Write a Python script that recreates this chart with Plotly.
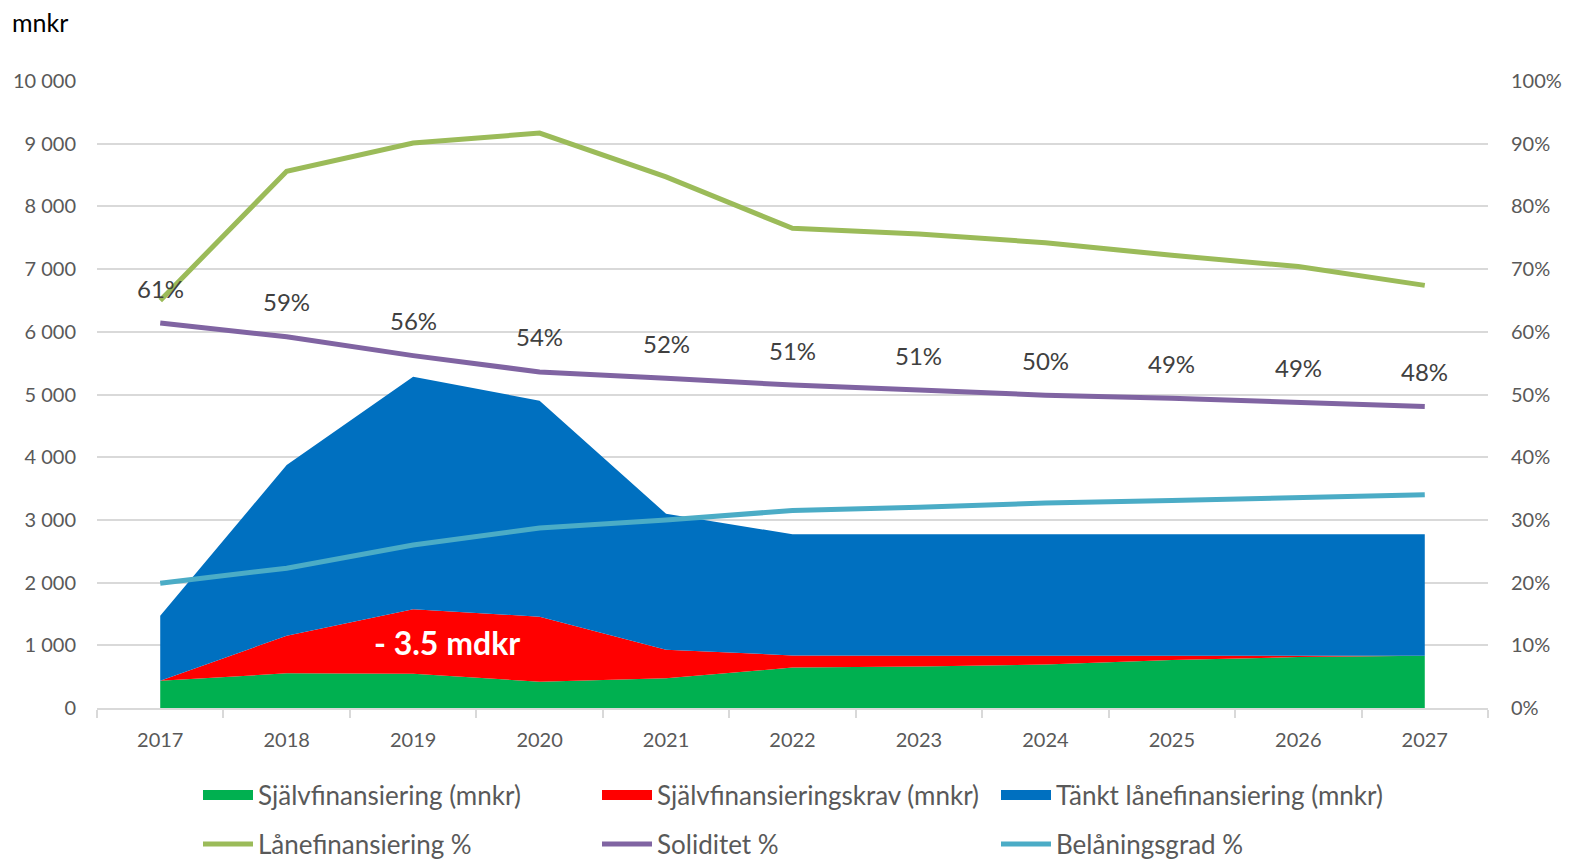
import plotly.graph_objects as go

years = ["2017", "2018", "2019", "2020", "2021", "2022", "2023", "2024", "2025", "2026", "2027"]

sjalvfin = [435, 553, 545, 420, 474, 644, 660, 692, 766, 813, 834]
sjalvfin_krav = [0, 600, 1029, 1037, 456, 195, 174, 142, 68, 21, 0]
tankt_lan = [1037, 2723, 3710, 3444, 2168, 1931, 1936, 1936, 1936, 1936, 1936]

lanefin_pct = [0.650, 0.856, 0.901, 0.917, 0.847, 0.765, 0.756, 0.742, 0.722, 0.704, 0.674]
soliditet_pct = [0.614, 0.592, 0.562, 0.536, 0.526, 0.515, 0.507, 0.499, 0.494, 0.488, 0.481]
belaning_pct = [0.199, 0.223, 0.260, 0.287, 0.300, 0.315, 0.320, 0.327, 0.331, 0.336, 0.340]
soliditet_labels = ["61%", "59%", "56%", "54%", "52%", "51%", "51%", "50%", "49%", "49%", "48%"]

left_ticks = [0, 1000, 2000, 3000, 4000, 5000, 6000, 7000, 8000, 9000, 10000]
left_tick_text = ["0", "1 000", "2 000", "3 000", "4 000", "5 000", "6 000", "7 000", "8 000", "9 000", "10 000"]
right_ticks = [0, 0.1, 0.2, 0.3, 0.4, 0.5, 0.6, 0.7, 0.8, 0.9, 1.0]

FONT = "Lato, 'Open Sans', sans-serif"
GRID = "#d9d9d9"
TXT = "#595959"

W, H = 1579, 859
ml, mr, mt, mb = 97, 91, 81, 151
pw, ph = W - ml - mr, H - mt - mb


def px_x(px):
    return (px - ml) / pw


def px_y(py):
    return (H - mb - py) / ph


fig = go.Figure()

area_series = [
    ("Självfinansiering (mnkr)", sjalvfin, "#00B050"),
    ("Självfinansieringskrav (mnkr)", sjalvfin_krav, "#FF0000"),
    ("Tänkt lånefinansiering (mnkr)", tankt_lan, "#0070C0"),
]
for name, vals, col in area_series:
    fig.add_trace(go.Scatter(
        x=years, y=vals, name=name, stackgroup="one", mode="none",
        fillcolor=col, line=dict(width=0), showlegend=False,
    ))
# legend swatches for the area series
for name, vals, col in area_series:
    fig.add_trace(go.Scatter(
        x=[None], y=[None], name=name, mode="lines",
        line=dict(color=col, width=15), legend="legend", showlegend=True,
    ))

line_series = [
    ("Lånefinansiering %", lanefin_pct, "#9BBB59"),
    ("Soliditet %", soliditet_pct, "#8064A2"),
    ("Belåningsgrad %", belaning_pct, "#4BACC6"),
]
for name, vals, col in line_series:
    fig.add_trace(go.Scatter(
        x=years, y=vals, name=name, mode="lines", yaxis="y2",
        line=dict(color=col, width=5), legend="legend2",
    ))

annotations = []
for i, (v, lab) in enumerate(zip(soliditet_pct, soliditet_labels)):
    annotations.append(dict(
        x=i, y=v, xref="x", yref="y2", text=lab, showarrow=False,
        yshift=35, font=dict(family=FONT, size=24, color="#404040"),
    ))
annotations.append(dict(
    x=2.27, y=1040, xref="x", yref="y", text="<b>- 3.5 mdkr</b>", showarrow=False,
    font=dict(family=FONT, size=32, color="white"),
))
annotations.append(dict(
    x=px_x(10), y=px_y(22), xref="paper", yref="paper", text="mnkr", showarrow=False,
    xanchor="left", yanchor="middle",
    font=dict(family=FONT, size=25, color="#000000"),
))

legend_common = dict(
    orientation="h", xanchor="left", yanchor="middle",
    xref="container", yref="container",
    entrywidth=334, entrywidthmode="pixels", itemwidth=50,
    font=dict(family=FONT, size=26, color=TXT), bgcolor="rgba(0,0,0,0)",
    traceorder="normal",
)

fig.update_layout(
    width=W, height=H,
    margin=dict(l=ml, r=mr, t=mt, b=mb, pad=0, autoexpand=False),
    paper_bgcolor="white", plot_bgcolor="white",
    font=dict(family=FONT, color=TXT, size=20),
    xaxis=dict(
        type="category", range=[-0.5, 10.5], tickson="boundaries",
        ticks="outside", ticklen=8, tickcolor=GRID, tickwidth=1.5,
        showline=True, linecolor=GRID, linewidth=1.5, showgrid=False,
        ticklabelstandoff=13,
        tickfont=dict(family=FONT, size=20, color=TXT), fixedrange=True,
    ),
    yaxis=dict(
        range=[0, 10000], tickvals=left_ticks, ticktext=left_tick_text,
        showgrid=True, gridcolor=GRID, gridwidth=1.5, zeroline=False,
        showline=False, ticks="", ticklabelstandoff=20,
        tickfont=dict(family=FONT, size=20, color=TXT),
    ),
    yaxis2=dict(
        range=[0, 1], tickvals=right_ticks, tickformat=".0%", overlaying="y",
        side="right", showgrid=False, zeroline=False, showline=False,
        ticks="", ticklabelstandoff=22,
        tickfont=dict(family=FONT, size=20, color=TXT),
    ),
    legend=dict(legend_common, x=198 / W, y=1 - 795 / H),
    legend2=dict(legend_common, x=198 / W, y=1 - 844 / H),
    annotations=annotations,
    showlegend=True,
)

fig.write_html("out.html")
